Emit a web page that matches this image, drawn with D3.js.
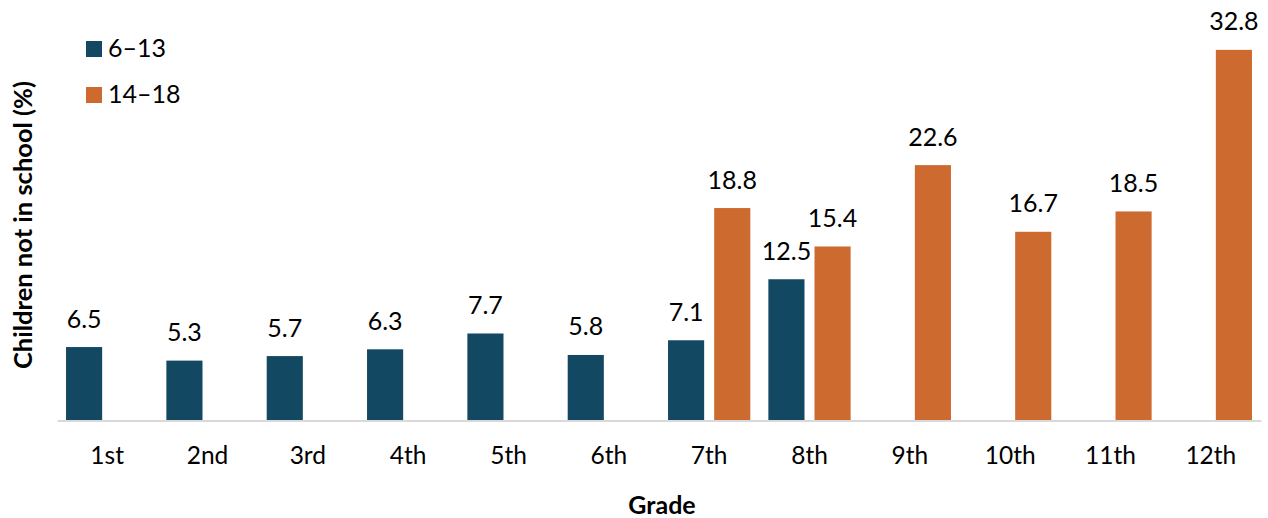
<!DOCTYPE html>
<html>
<head>
<meta charset="utf-8">
<script src="https://cdn.jsdelivr.net/npm/d3@7"></script>
<style>
  html, body { margin: 0; padding: 0; background: #fff; }
  svg { display: block; font-family: Lato, "Open Sans", sans-serif; }
</style>
</head>
<body>
<svg id="chart" width="1268" height="518"></svg>
<script>
// Share of children not in school, by grade and age group
const grades = ["1st", "2nd", "3rd", "4th", "5th", "6th", "7th", "8th", "9th", "10th", "11th", "12th"];
const seriesNames = ["6–13", "14–18"];
const ages6to13 = [6.5, 5.3, 5.7, 6.3, 7.7, 5.8, 7.1, 12.5, null, null, null, null];
const ages14to18 = [null, null, null, null, null, null, 18.8, 15.4, 22.6, 16.7, 18.5, 32.8];
const seriesColors = ["#134862", "#cc6a2f"];

const rows = grades.map((g, i) => ({
  grade: g,
  values: [
    { key: seriesNames[0], value: ages6to13[i] },
    { key: seriesNames[1], value: ages14to18[i] }
  ]
}));

const svg = d3.select("#chart");
const baseY = 420.5;

const x0 = d3.scaleBand()
  .domain(grades)
  .range([57, 1261])
  .paddingInner(0.18)
  .paddingOuter(0.09);

const x1 = d3.scaleBand()
  .domain(seriesNames)
  .range([0, x0.bandwidth()])
  .paddingInner(0.217);

const y = d3.scaleLinear()
  .domain([0, 35])
  .range([baseY, baseY - 35 * 11.3]);

const color = d3.scaleOrdinal().domain(seriesNames).range(seriesColors);

// Bars
const groups = svg.append("g")
  .selectAll("g")
  .data(rows)
  .join("g")
  .attr("transform", d => `translate(${x0(d.grade)},0)`);

const present = d => d.values.filter(v => v.value != null);

groups.selectAll("rect")
  .data(present)
  .join("rect")
  .attr("x", d => x1(d.key))
  .attr("width", x1.bandwidth())
  .attr("y", d => y(d.value))
  .attr("height", d => y(0) - y(d.value))
  .attr("fill", d => color(d.key));

// Value labels
groups.selectAll("text")
  .data(present)
  .join("text")
  .attr("x", d => x1(d.key) + x1.bandwidth() / 2)
  .attr("y", d => y(d.value) - 19.5)
  .attr("text-anchor", "middle")
  .attr("font-size", 25)
  .attr("fill", "#000")
  .text(d => d3.format(".1f")(d.value));

// Category axis
const xAxis = svg.append("g")
  .attr("transform", `translate(0,${baseY})`)
  .call(d3.axisBottom(x0).tickSize(0).tickSizeOuter(0));
xAxis.select(".domain").attr("stroke", "#d9d9d9").attr("stroke-width", 2);
xAxis.selectAll("text")
  .attr("y", 43.5)
  .attr("dy", 0)
  .attr("font-size", 24.5)
  .attr("font-family", "Lato, 'Open Sans', sans-serif")
  .attr("fill", "#000");

// Axis titles
svg.append("text")
  .attr("x", 662)
  .attr("y", 514)
  .attr("text-anchor", "middle")
  .attr("font-size", 25)
  .attr("font-weight", "bold")
  .text("Grade");

svg.append("text")
  .attr("transform", "translate(32,225) rotate(-90)")
  .attr("text-anchor", "middle")
  .attr("font-size", 25.5)
  .attr("font-weight", "bold")
  .text("Children not in school (%)");

// Legend
const legend = svg.append("g")
  .selectAll("g")
  .data(seriesNames)
  .join("g")
  .attr("transform", (d, i) => `translate(86,${41 + i * 46})`);

legend.append("rect")
  .attr("width", 16)
  .attr("height", 16)
  .attr("fill", d => color(d));

legend.append("text")
  .attr("x", 22)
  .attr("y", 15.5)
  .attr("font-size", 25)
  .text(d => d);
</script>
</body>
</html>
